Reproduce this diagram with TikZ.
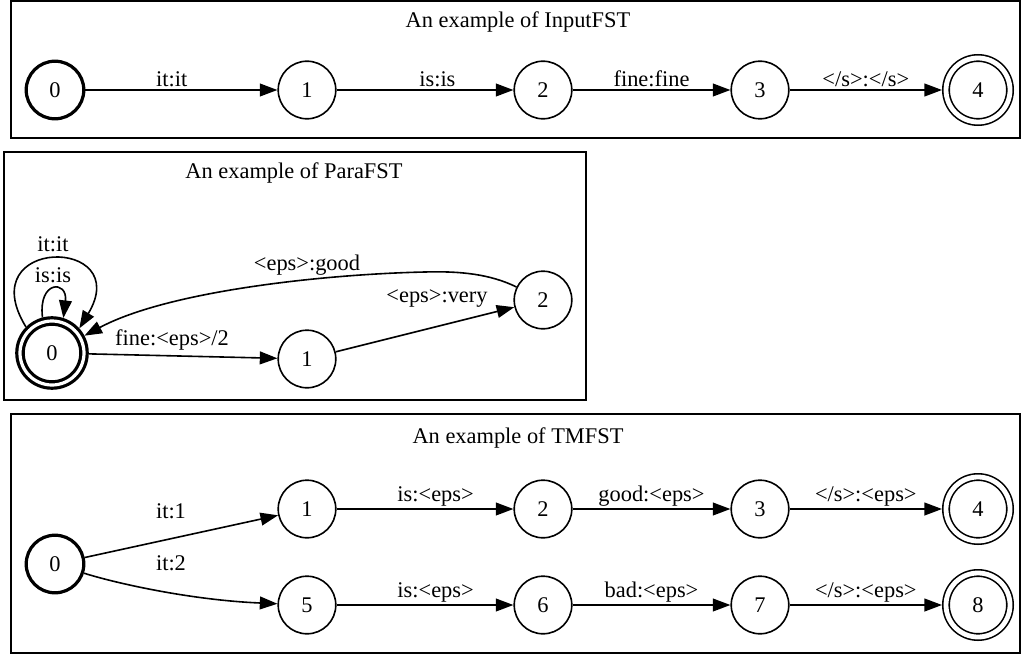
\documentclass[tikz,border=0pt]{standalone}
\usepackage{fontspec}
\setmainfont{Liberation Serif}
\usetikzlibrary{arrows.meta}

\begin{document}
\begin{tikzpicture}[x = 0.625pt, y = -0.625pt,
		state/.style = {draw, circle, line width = 1pt, minimum size = 36pt, inner sep = 0pt, font = \fontsize{14pt}{16pt}\selectfont},
		start/.style = {state, line width = 2pt},
		final/.style = {state, double, double distance = 3pt, minimum size = 40pt, outer sep = 2.5pt},
		startfinal/.style = {state, line width = 2pt, double, double distance = 2pt, minimum size = 40pt, outer sep = 3pt},
		edge/.style = {black, line width = 1pt, -{Triangle[length = 11pt, width = 8pt]}},
		lbl/.style = {font = \fontsize{14pt}{16pt}\selectfont, inner sep = 0pt, anchor = base, yshift = #1},
		lbl/.default = 2.5pt,
		tag/.style = {font = \fontsize{14pt}{16pt}\selectfont, inner sep = 0pt},
		frame/.style = {draw, line width = 1pt}]
	\useasboundingbox (0, 0) rectangle (1022, 657);

	% InputFST
	\draw [frame] (11, 1) rectangle (1020, 138);
	\node [tag] (cap1) at (518, 22) {An example of InputFST};
	\node [start] (i0) at (55, 90) {0};
	\node [state] (i1) at (307, 90) {1};
	\node [state] (i2) at (543, 90) {2};
	\node [state] (i3) at (760, 90) {3};
	\node [final] (i4) at (978, 90) {4};
	\draw [edge] (i0) -- node [lbl, pos = 0.45] {it:it} (i1);
	\draw [edge] (i1) -- node [lbl, pos = 0.57] {is:is} (i2);
	\draw [edge] (i2) -- node [lbl, pos = 0.5] {fine:fine} (i3);
	\draw [edge] (i3) -- node [lbl, pos = 0.5] {</s>:</s>} (i4);

	% ParaFST
	\draw [frame] (4, 152) rectangle (586, 400);
	\node [tag] (cap2) at (294, 173) {An example of ParaFST};
	\node [startfinal] (p0) at (52, 353) {0};
	\node [state] (p1) at (307, 359) {1};
	\node [state] (p2) at (543, 300) {2};
	\draw [edge] (p0.135) .. controls (-30, 236) and (135, 236) .. (p0.42) node [tag] at (53, 244) {it:it};
	\draw [edge] (p0.105) .. controls (38, 280) and (68, 280) .. (p0.72) node [tag] at (53, 275) {is:is};
	\draw [edge] (p0) -- (p1) node [tag] at (172, 340) {fine:<eps>/2};
	\draw [edge] (p1) -- (p2) node [tag] at (437, 298) {<eps>:very};
	\draw [edge] (p2) .. controls (490, 274) and (460, 271) .. (425, 272) .. controls (330, 274) and (170, 290) .. (p0) node [tag] at (307, 265) {<eps>:good};

	% TMFST
	\draw [frame] (11, 414) rectangle (1020, 653);
	\node [tag] (cap3) at (518, 438) {An example of TMFST};
	\node [start] (t0) at (55, 564) {0};
	\node [state] (t1) at (307, 509) {1};
	\node [state] (t2) at (543, 509) {2};
	\node [state] (t3) at (760, 509) {3};
	\node [final] (t4) at (978, 509) {4};
	\node [state] (t5) at (307, 605) {5};
	\node [state] (t6) at (543, 605) {6};
	\node [state] (t7) at (760, 605) {7};
	\node [final] (t8) at (978, 605) {8};
	\draw [edge] (t0) -- (t1) node [tag] at (171, 511) {it:1};
	\draw [edge] (t0) .. controls (115, 583) and (190, 600) .. (t5) node [tag] at (171, 563) {it:2};
	\draw [edge] (t1) -- node [lbl = 5pt, pos = 0.56] {is:<eps>} (t2);
	\draw [edge] (t2) -- node [lbl = 5pt, pos = 0.5] {good:<eps>} (t3);
	\draw [edge] (t3) -- node [lbl = 5pt, pos = 0.5] {</s>:<eps>} (t4);
	\draw [edge] (t5) -- node [lbl = 5pt, pos = 0.56] {is:<eps>} (t6);
	\draw [edge] (t6) -- node [lbl = 5pt, pos = 0.5] {bad:<eps>} (t7);
	\draw [edge] (t7) -- node [lbl = 5pt, pos = 0.5] {</s>:<eps>} (t8);
\end{tikzpicture}
\end{document}
